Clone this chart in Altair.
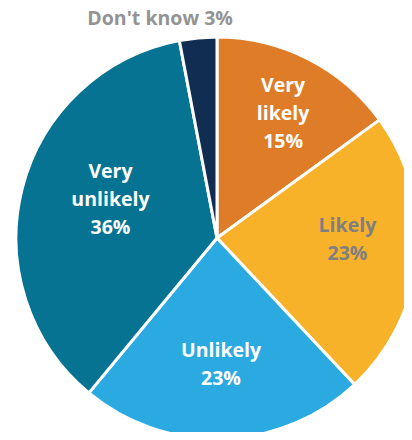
import altair as alt
import pandas as pd

categories = ["Very likely", "Likely", "Unlikely", "Very unlikely", "Don't know"]
values = [15, 23, 23, 36, 3]
label_lines = ["Very\nlikely", "Likely", "Unlikely", "Very\nunlikely", "Don't know"]
slice_colors = ["#DF7C28", "#F7B229", "#2AAAE1", "#067392", "#112D51"]
text_colors = ["#FFFFFF", "#7F7F7F", "#FFFFFF", "#FFFFFF", "#939393"]

df = pd.DataFrame({
    "category": categories,
    "value": values,
    "order": list(range(len(categories))),
    "label": [l + (" " if c == "Don't know" else "\n") + f"{v}%"
              for l, c, v in zip(label_lines, categories, values)],
})

CX, CY, R = 209, 230, 201
theta_scale = alt.Scale(domain=[0, 100])
FONT = "Open Sans"
FS = 19.5

arcs = alt.Chart(df).mark_arc(outerRadius=R, stroke="white", strokeWidth=3).encode(
    theta=alt.Theta("value:Q", stack=True, scale=theta_scale),
    order=alt.Order("order:Q"),
    x=alt.value(CX), y=alt.value(CY),
    color=alt.Color("category:N", scale=alt.Scale(domain=categories, range=slice_colors), legend=None),
)

text_base = alt.Chart(df).transform_stack(
    stack="value", groupby=[], as_=["v0", "v1"], sort=[alt.SortField("order")]
).transform_calculate(mid="(datum.v0 + datum.v1) / 2")

text_enc = dict(
    theta=alt.Theta("mid:Q", scale=theta_scale),
    x=alt.value(CX), y=alt.value(CY),
    text="label:N",
    color=alt.Color("category:N", scale=alt.Scale(domain=categories, range=text_colors), legend=None),
)

# per-label placement: (radius, dx, dy)
placement = {
    "Very likely": (139, 3, -28),
    "Likely": (131, 0, -24),
    "Unlikely": (127, 0, -14),
    "Very unlikely": (110, 0, -39),
    "Don't know": (222, -36, 2),
}

layers = [arcs]
for cat, (r, dx, dy) in placement.items():
    layers.append(
        text_base.transform_filter(alt.datum.category == cat).mark_text(
            font=FONT, fontWeight="bold", fontSize=FS, lineBreak="\n", lineHeight=28,
            align="center", baseline="middle", radius=r, dx=dx, dy=dy,
        ).encode(**text_enc)
    )

chart = alt.layer(*layers).resolve_scale(color="independent").properties(
    width=396, height=424, padding=0, autosize=alt.AutoSizeParams(type="none"),
).configure_view(stroke=None)

chart.save("out.html", embed_options={"renderer": "svg", "actions": False})
